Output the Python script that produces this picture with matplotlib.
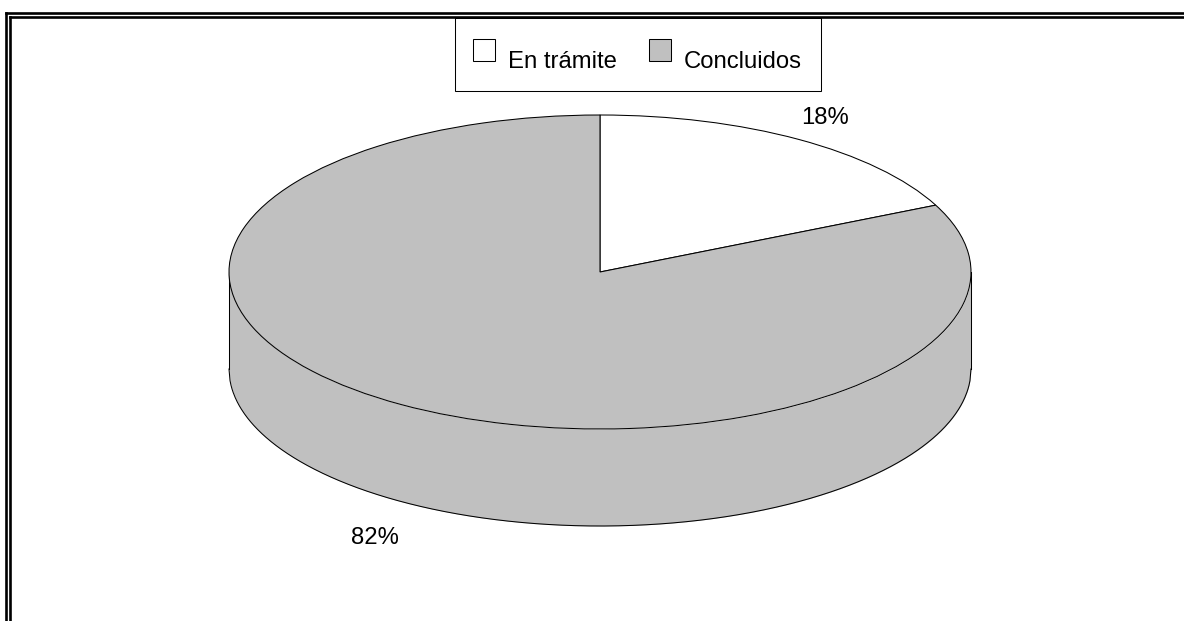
import numpy as np
import matplotlib
matplotlib.use("Agg")
import matplotlib.pyplot as plt
from matplotlib.lines import Line2D
from matplotlib.patches import Rectangle
from matplotlib.legend_handler import HandlerPatch
from matplotlib.transforms import Affine2D

categories = ["En trámite", "Concluidos"]
shares = [18, 82]
colors = ["#FFFFFF", "#C0C0C0"]

W, H = 1184, 621
plt.rcParams["font.family"] = ["Liberation Sans", "DejaVu Sans"]
fig = plt.figure(figsize=(W / 100, H / 100), dpi=100, facecolor="white")
px = Affine2D().scale(1, -1).translate(0, H)  # pixel coords, y down

# double frame (top and left only reach the canvas edges)
for xs, ys in [((6, 6), (H, 13.3)), ((6, W), (13.3, 13.3)), ((10, 10), (H, 17.3)), ((10, W), (17.3, 17.3))]:
    fig.add_artist(Line2D(xs, ys, transform=px, color="black", lw=1.9,
                          solid_capstyle="projecting"))

# pie axes: data range -1..1 maps onto the ellipse of the top face
cx, cy, rx, ry, depth = 600, 272, 371, 157, 97
edge_lw = 0.75
ax = fig.add_axes([(cx - rx) / W, 1 - (cy + ry) / H, 2 * rx / W, 2 * ry / H])
wedges, _ = ax.pie(shares, colors=colors, startangle=90, counterclock=False, radius=1,
                   wedgeprops=dict(edgecolor="black", linewidth=edge_lw), normalize=True)
ax.set_aspect("auto")
ax.set_xlim(-1, 1)
ax.set_ylim(-1, 1)
ax.set_axis_off()
for w in wedges:
    w.set_clip_on(False)
    w.set_zorder(3)

# cylinder side
d = depth / ry
x = np.linspace(-1, 1, 721)
lower = -np.sqrt(np.clip(1 - x ** 2, 0, None))
ax.fill_between(x, lower, lower - d, color=colors[1], lw=0, clip_on=False, zorder=1)
ax.plot(x, lower - d, color="black", lw=edge_lw, clip_on=False, zorder=2)
ax.plot([-1, -1], [0, -d], color="black", lw=edge_lw, clip_on=False, zorder=2)
ax.plot([1, 1], [0, -d], color="black", lw=edge_lw, clip_on=False, zorder=2)

# percentage labels
fs = 17.2
label_pos = [(825, 118), (375, 538)]
for s, (lx, ly) in zip(shares, label_pos):
    fig.text(lx, ly, f"{s}%", transform=px, fontsize=fs, ha="center", va="center", color="black")


# legend: swatches sit higher than the text, frame drawn separately
def raised_swatch(legend, orig_handle, xdescent, ydescent, width, height, fontsize):
    return Rectangle((0, 0.27 * fontsize), width, 0.92 * fontsize)


fig.add_artist(Rectangle((455, 18), 366, 73, transform=px, facecolor="white",
                         edgecolor="black", lw=edge_lw, zorder=1.5))
leg = fig.legend(wedges, categories, loc="lower left",
                 bbox_to_anchor=(473 / W, 1 - 72.5 / H), bbox_transform=fig.transFigure,
                 ncol=2, fontsize=fs, frameon=False, handlelength=0.92, handleheight=0.92,
                 handletextpad=0.54, columnspacing=1.35, borderaxespad=0, borderpad=0,
                 handler_map={w: HandlerPatch(patch_func=raised_swatch) for w in wedges})
leg.set_zorder(3)

fig.savefig("out.png", dpi=100, facecolor="white")
